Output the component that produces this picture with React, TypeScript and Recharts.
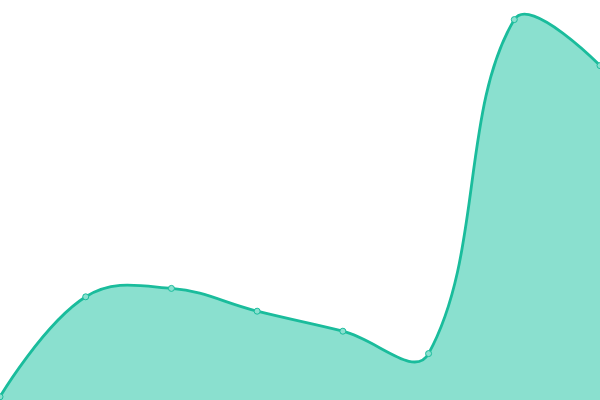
import { Area, AreaChart, XAxis, YAxis } from "recharts";

// 카테고리 / 값
const categories = ["A", "B", "C", "D", "E", "F", "G", "H"];
const values = [0.8, 25.8, 27.9, 22.2, 17.2, 11.6, 95.1, 83.6];

const SMOOTH = 0.4;

const data = categories.map((name, i) => ({ name, value: values[i] }));

// 거리 비율 기반 베지어 스무딩 (d3 CurveFactory 형태)
function smoothCurve(context: any) {
  let xs: number[] = [];
  let ys: number[] = [];
  let line = NaN;
  return {
    areaStart() { line = 0; },
    areaEnd() { line = NaN; },
    lineStart() { xs = []; ys = []; },
    point(x: number, y: number) { xs.push(+x); ys.push(+y); },
    lineEnd() {
      const n = xs.length;
      if (n) {
        if (line) context.lineTo(xs[0], ys[0]);
        else context.moveTo(xs[0], ys[0]);
        let cx = xs[0];
        let cy = ys[0];
        for (let i = 1; i < n; i++) {
          const x = xs[i], y = ys[i];
          const px = xs[i - 1], py = ys[i - 1];
          let inX = x, inY = y, vx = 0, vy = 0, ratio = 0.5;
          if (i < n - 1) {
            const nx = xs[i + 1], ny = ys[i + 1];
            vx = nx - px; vy = ny - py;
            const d0 = Math.hypot(x - px, y - py);
            const d1 = Math.hypot(nx - x, ny - y);
            ratio = d0 + d1 > 0 ? d1 / (d0 + d1) : 0.5;
            inX = x - vx * SMOOTH * (1 - ratio);
            inY = y - vy * SMOOTH * (1 - ratio);
          }
          context.bezierCurveTo(cx, cy, inX, inY, x, y);
          cx = x + vx * SMOOTH * ratio;
          cy = y + vy * SMOOTH * ratio;
        }
      }
      if (line || (line !== 0 && n === 1)) context.closePath();
      line = 1 - line;
    },
  };
}

export default function App() {
  return (
    <div style={{ position: "absolute", left: 0, top: 0, width: 600, height: 400, background: "#fff" }}>
      <AreaChart width={600} height={400} data={data} margin={{ top: 0, right: 0, bottom: 0, left: 0 }}>
        <XAxis dataKey="name" hide />
        <YAxis hide domain={[0, 100]} />
        <Area
          type={smoothCurve as any}
          dataKey="value"
          stroke="#1abc9c"
          strokeWidth={2.8}
          fill="#8ae0cf"
          fillOpacity={1}
          dot={{ r: 3, fill: "#8ae0cf", stroke: "#1abc9c", strokeWidth: 1 }}
          activeDot={false}
          isAnimationActive={false}
        />
      </AreaChart>
    </div>
  );
}
